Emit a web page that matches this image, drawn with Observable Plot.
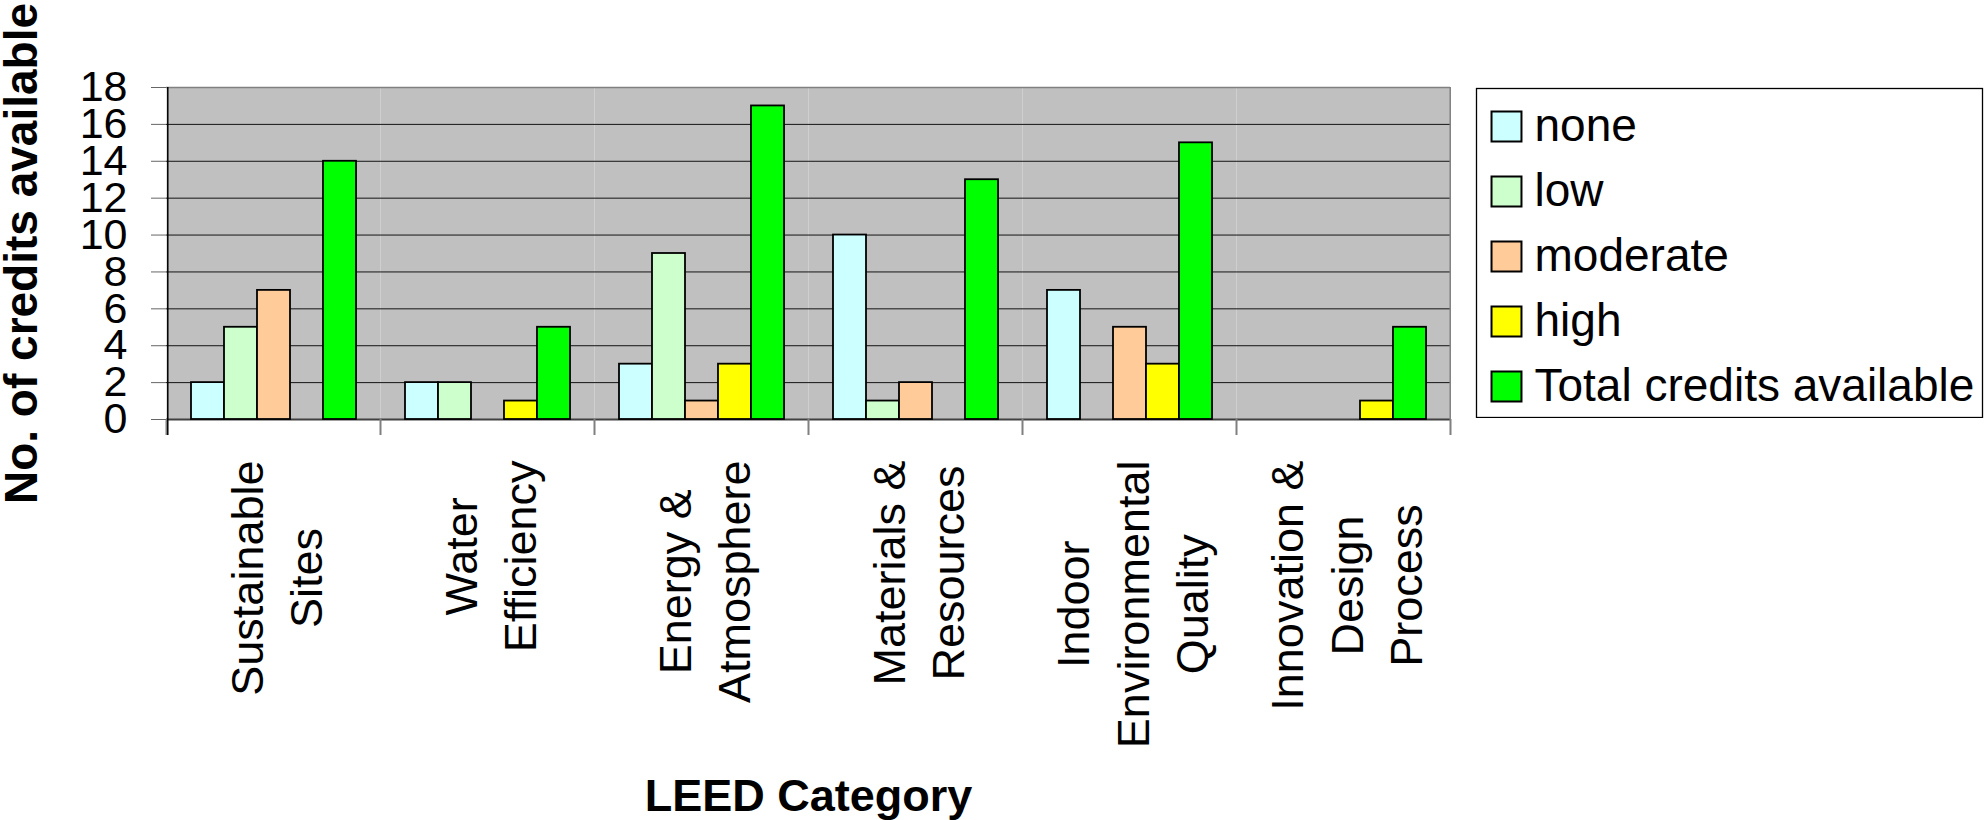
<!DOCTYPE html>
<html>
<head>
<meta charset="utf-8">
<script src="https://cdn.jsdelivr.net/npm/d3@7"></script>
<script src="https://cdn.jsdelivr.net/npm/@observablehq/plot@0.6"></script>
<style>
  html, body { margin: 0; padding: 0; background: #fff; }
  #wrap { position: relative; width: 1986px; height: 820px; overflow: hidden; }
  #main { position: absolute; left: 0; top: 0; }
  #legend { position: absolute; left: 1475px; top: 87px; }
</style>
</head>
<body>
<div id="wrap"><div id="main"></div><div id="legend"></div></div>
<script>
// ---- data ----
const categories = ["Sustainable Sites", "Water Efficiency", "Energy & Atmosphere", "Materials & Resources", "Indoor Environmental Quality", "Innovation & Design Process"];
const categoryLabels = ["Sustainable\nSites", "Water\nEfficiency", "Energy &\nAtmosphere", "Materials &\nResources", "Indoor\nEnvironmental\nQuality", "Innovation &\nDesign\nProcess"];
const series = ["none", "low", "moderate", "high", "Total credits available"];
const noneValues = [2, 2, 3, 10, 7, 0];
const lowValues = [5, 2, 9, 1, 0, 0];
const moderateValues = [7, 0, 1, 2, 5, 0];
const highValues = [0, 1, 3, 0, 3, 1];
const totalValues = [14, 5, 17, 13, 15, 5];
const seriesColors = ["#ccffff", "#ccffcc", "#ffcc99", "#ffff00", "#00ff00"];
const yTicks = [0, 2, 4, 6, 8, 10, 12, 14, 16, 18];
const yTitle = "No. of credits available";
const xTitle = "LEED Category";

const valuesBySeries = [noneValues, lowValues, moderateValues, highValues, totalValues];
const rows = [];
series.forEach((s, si) => categories.forEach((c, ci) => rows.push({category: c, series: s, value: valuesBySeries[si][ci]})));

// ---- layout ----
const W = 1986, H = 820, mL = 164, mR = 535, mT = 87, mB = 401;
const padOuter = 0.7;
const facetW = (W - mL - mR) / categories.length;
const step = facetW / (series.length + 2 * padOuter);
const edgeOffset = (padOuter + 0.5) * step; // from first/last band centre to facet edge
const fontFamily = "'Liberation Sans', Arial, Helvetica, sans-serif";

const ctx = document.createElement("canvas").getContext("2d");
ctx.font = "45px 'Liberation Sans'";
const maxLen = (lbl) => Math.max(...lbl.split("\n").map((l) => ctx.measureText(l).width));

const labelMarks = categories.map((c, i) =>
  Plot.text([c], {
    fx: (d) => d,
    text: () => categoryLabels[i],
    frameAnchor: "bottom",
    rotate: -90,
    textAnchor: "middle",
    lineAnchor: "middle",
    lineHeight: 1.327,
    fontSize: 45,
    fill: "#000",
    dy: 41 + maxLen(categoryLabels[i]) / 2
  })
);

const first = categories[0], last = categories[categories.length - 1];

const main = Plot.plot({
  width: W, height: H,
  marginLeft: mL, marginRight: mR, marginTop: mT, marginBottom: mB,
  style: {fontFamily, background: "transparent", overflow: "visible"},
  fx: {domain: categories, padding: 0},
  x: {domain: series, paddingInner: 0, paddingOuter: padOuter, axis: null},
  y: {domain: [yTicks[0], yTicks[yTicks.length - 1]]},
  color: {domain: series, range: seriesColors},
  marks: [
    Plot.frame({fill: "#c0c0c0"}),
    Plot.gridY(yTicks.slice(1, -1), {stroke: "#000", strokeOpacity: 0.9, strokeWidth: 1}),
    Plot.ruleY([yTicks[yTicks.length - 1]], {stroke: "#808080", strokeWidth: 1.5}),
    Plot.ruleY([yTicks[0]], {stroke: "#404040", strokeWidth: 2}),
    Plot.barY(rows.filter((d) => d.value > 0), {fx: "category", x: "series", y: "value", fill: "series", stroke: "#000", strokeWidth: 1.8}),
    Plot.axisFx({anchor: "bottom", tickSize: 16, dx: -facetW / 2, fill: "none", stroke: "#808080", strokeWidth: 1.5, label: null}),
    Plot.axisFx({anchor: "bottom", tickSize: 16, dx: facetW / 2, fill: "none", stroke: "#808080", strokeWidth: 1.5, label: null}),
    Plot.ruleX([first], {fx: (d) => d, x: () => series[0], dx: -edgeOffset, stroke: "#000", strokeWidth: 1.5, insetBottom: -16}),
    Plot.ruleX([last], {fx: (d) => d, x: () => series[series.length - 1], dx: edgeOffset, stroke: "#808080", strokeWidth: 1.5, insetBottom: -16}),
    Plot.axisFx({anchor: "bottom", ticks: [], tickSize: 0, label: xTitle, labelAnchor: "center", labelArrow: "none", labelOffset: 391, fontSize: 45, fontWeight: "bold", fill: "#000"}),
    Plot.axisY(yTicks, {tickSize: 15, tickPadding: 24, fontSize: 43, stroke: "#666", fill: "#000", label: null}),
    Plot.axisY({ticks: [], tickSize: 0, label: yTitle, labelAnchor: "center", labelArrow: "none", labelOffset: 162, fontSize: 46, fontWeight: "bold", fill: "#000"}),
    ...labelMarks
  ]
});
document.getElementById("main").appendChild(main);

const legend = Plot.plot({
  width: 510, height: 331,
  marginLeft: 1, marginRight: 3, marginTop: 1, marginBottom: 1,
  style: {fontFamily, background: "transparent"},
  y: {type: "point", domain: series, range: [37, 300.7], padding: 0, axis: null},
  color: {domain: series, range: seriesColors},
  marks: [
    Plot.frame({fill: "#fff", stroke: "#000", strokeWidth: 1.3}),
    Plot.dot(series, {y: (d) => d, fill: (d) => d, symbol: "square", r: 16.9, stroke: "#000", strokeWidth: 2, frameAnchor: "left", dx: 30}),
    Plot.text(series, {y: (d) => d, text: (d) => d, frameAnchor: "left", dx: 58, textAnchor: "start", fontSize: 46, fill: "#000"})
  ]
});
document.getElementById("legend").appendChild(legend);
</script>
</body>
</html>
